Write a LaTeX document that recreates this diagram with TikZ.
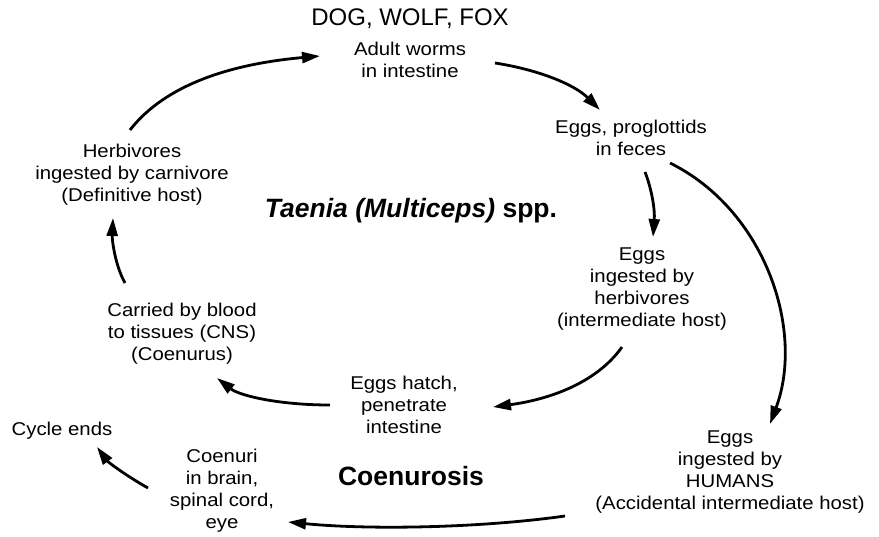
\documentclass[tikz,border=0pt]{standalone}
\usepackage{fontspec}
\setmainfont{Liberation Sans}[FakeStretch=1.1]
\newfontfamily\plainsans{Liberation Sans}
\usetikzlibrary{arrows.meta}
\tikzset{
  lbl/.style={align=center, inner sep=0pt, font=\fontsize{18.5}{22}\selectfont},
  cyc/.style={line width=2.8pt, -{Triangle[length=18pt,width=11pt]}},
}
\begin{document}
\begin{tikzpicture}[x=1pt,y=-1pt]
\useasboundingbox (0,0) rectangle (879,536);
% nodes
\node[inner sep=0pt, font=\plainsans\fontsize{24}{26}\selectfont] (dog) at (410,19) {DOG, WOLF, FOX};
\node[lbl] (adult) at (410,60) {Adult worms\\in intestine};
\node[lbl] (feces) at (631,138) {Eggs, proglottids\\in feces};
\node[lbl] (herb) at (132,175) {Herbivores\\ingested by carnivore\\(Definitive host)};
\node[inner sep=0pt, font=\plainsans\bfseries\itshape\fontsize{26.5}{28}\selectfont] (taenia) at (411,211) {Taenia (Multiceps)\ \textup{spp.}};
\node[lbl] (herbint) at (642,289) {Eggs\\ingested by\\herbivores\\(intermediate host)};
\node[lbl] (blood) at (182,334) {Carried by blood\\to tissues (CNS)\\(Coenurus)};
\node[lbl] (hatch) at (404,405) {Eggs hatch,\\penetrate\\intestine};
\node[lbl] (cycle) at (62,431) {Cycle ends};
\node[inner sep=0pt, font=\plainsans\bfseries\fontsize{26.5}{28}\selectfont] (coen) at (411,476) {Coenurosis};
\node[lbl] (coenuri) at (222,491) {Coenuri\\in brain,\\spinal cord,\\eye};
\node[lbl] (humans) at (730,472) {Eggs\\ingested by\\HUMANS\\(Accidental intermediate host)};
% connectors
\draw[cyc] ([shift={(-2,-45)}]herb.center) .. controls (165,85) and (230,64) .. ([shift={(-90,-4)}]adult.center);
\draw[cyc] ([shift={(85,3)}]adult.center) .. controls (540,70) and (575,85) .. ([shift={(-31,-28)}]feces.center);
\draw[cyc] ([shift={(14,34)}]feces.center) .. controls (652,190) and (655,210) .. ([shift={(11,-52)}]herbint.center);
\draw[cyc] ([shift={(39,25)}]feces.center) .. controls (765,210) and (805,330) .. ([shift={(40,-48)}]humans.center);
\draw[cyc] ([shift={(-20,58)}]herbint.center) .. controls (595,385) and (545,400) .. ([shift={(89,2)}]hatch.center);
\draw[cyc] ([shift={(-74,0)}]hatch.center) .. controls (280,405) and (240,396) .. ([shift={(35,44)}]blood.center);
\draw[cyc] ([shift={(-57,-51)}]blood.center) .. controls (115,265) and (112,240) .. ([shift={(-19,43)}]herb.center);
\draw[cyc] ([shift={(-165,44)}]humans.center) .. controls (480,528) and (370,530) .. ([shift={(66,31)}]coenuri.center);
\draw[cyc] ([shift={(-74,-3)}]coenuri.center) .. controls (125,475) and (108,462) .. ([shift={(35,16)}]cycle.center);
\end{tikzpicture}
\end{document}
